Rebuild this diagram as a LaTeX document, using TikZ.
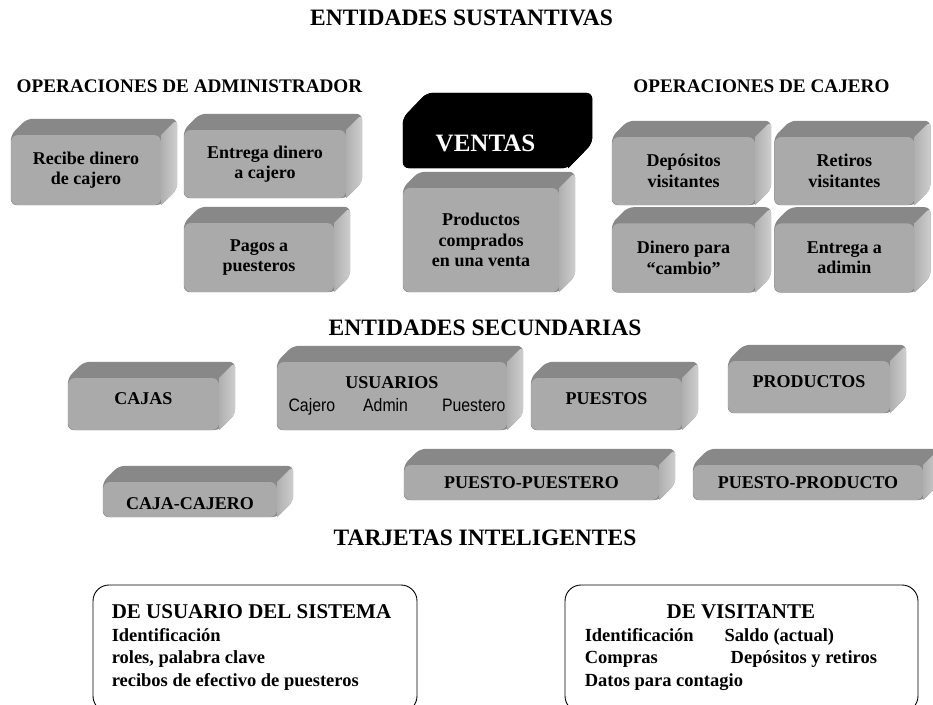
\documentclass[tikz,border=0pt]{standalone}
\usepackage{fontspec}
\setmainfont{Liberation Serif}
\newfontfamily\estrecha[FakeStretch=0.88]{Liberation Sans}
\usetikzlibrary{positioning, backgrounds}

\definecolor{frente}{RGB}{170,170,170}
\definecolor{tapa}{RGB}{136,136,136}
\definecolor{ladoA}{RGB}{176,176,176}
\definecolor{ladoB}{RGB}{206,206,206}

\tikzstyle{bloque} = [rectangle, rounded corners=7pt, fill=frente, align=center, inner sep=0pt, font=\bfseries\fontsize{18}{20.5}\selectfont]
\tikzstyle{titulo} = [font=\bfseries\fontsize{23.5}{27}\selectfont]
\tikzstyle{subtitulo} = [font=\bfseries\fontsize{19.2}{22}\selectfont]
\tikzstyle{tarjeta} = [rectangle, rounded corners=16pt, draw=black, line width=0.9pt, inner sep=0pt]
\tikzstyle{textoTarjeta} = [inner sep=0pt, align=left, font=\bfseries\fontsize{18.5}{22.5}\selectfont]

% silueta, tapa y lado de un bloque: nodo, dx, dy
\newcommand{\relieve}[4][]{%
  \fill[tapa, rounded corners=6pt, #1] (#2.south west) -- (#2.north west) -- ++(#3,-#4) -- ([shift={(#3,-#4)}]#2.north east) -- ([shift={(#3,-#4)}]#2.south east) -- (#2.south east) -- cycle;
  \shade[left color=ladoA, right color=ladoB, #1] (#2.north east) [rounded corners=6pt] -- ([shift={(#3,-#4)}]#2.north east) -- ([shift={(#3,-#4)}]#2.south east) [sharp corners] -- (#2.south east) -- cycle;
}

\begin{document}
\begin{tikzpicture}[x=1pt, y=-1pt]
        \path[use as bounding box, clip] (0,0) rectangle (933,704);

        % Titulos
        \node (titSustantivas) [titulo] at (461.5,17.5) {ENTIDADES SUSTANTIVAS};
        \node (titAdmin) [subtitulo] at (189.5,86) {OPERACIONES DE ADMINISTRADOR};
        \node (titCajero) [subtitulo] at (761.5,86) {OPERACIONES DE CAJERO};
        \node (titSecundarias) [titulo] at (485,328) {ENTIDADES SECUNDARIAS};
        \node (titTarjetas) [titulo] at (485,538) {TARJETAS INTELIGENTES};

        % Operaciones de administrador
        \node (recibe) [bloque, minimum width=150pt, minimum height=70pt] at (86,170) {Recibe dinero\\de cajero};
        \node (entrega) [bloque, minimum width=162pt, minimum height=68pt] at (265,164) {Entrega dinero\\a cajero};
        \node (pagos) [bloque, minimum width=150pt, minimum height=69pt] at (259,257.5) {Pagos a\\puesteros};

        % Ventas
        \node (ventas) [bloque, fill=black, text=white, font=\bfseries\fontsize{25}{28}\selectfont, minimum width=165pt, minimum height=50pt] at (485.5,143) {VENTAS};
        \node (compras) [bloque, minimum width=156pt, minimum height=104pt] at (481,240) {Productos\\comprados\\en una venta};

        % Operaciones de cajero
        \node (depositos) [bloque, minimum width=143pt, minimum height=68pt] at (683.5,171) {Depósitos\\visitantes};
        \node (retiros) [bloque, minimum width=140pt, minimum height=68pt, right=19pt of depositos] {Retiros\\visitantes};
        \node (cambio) [bloque, minimum width=143pt, minimum height=69pt, below=18pt of depositos] {Dinero para\\“cambio”};
        \node (entregaAdmin) [bloque, minimum width=140pt, minimum height=69pt, below=18pt of retiros] {Entrega a\\adimin};

        % Entidades secundarias
        \node (cajas) [bloque, minimum width=151pt, minimum height=52pt, text depth=11pt] at (143.5,404) {CAJAS};
        \node (usuarios) [bloque, minimum width=230pt, minimum height=68pt] at (392,396) {USUARIOS\\[3pt]{\estrecha\mdseries\fontsize{18}{20}\selectfont\hspace{10pt}Cajero\hspace{28pt}Admin\hspace{34pt}Puestero}};
        \node (puestos) [bloque, minimum width=151pt, minimum height=52pt, text depth=11pt] at (606.5,404) {PUESTOS};
        \node (productos) [bloque, minimum width=162pt, minimum height=52pt, text depth=11pt] at (809,387) {PRODUCTOS};
        \node (cajaCajero) [bloque, minimum width=174pt, minimum height=35pt, text height=20pt] at (190,499.5) {CAJA-CAJERO};
        \node (puestoPuestero) [bloque, minimum width=255pt, minimum height=35pt] at (531.5,482.5) {PUESTO-PUESTERO};
        \node (puestoProducto) [bloque, minimum width=230pt, minimum height=35pt] at (808,482.5) {PUESTO-PRODUCTO};

        % Relieve de los bloques
        \begin{scope}[on background layer]
            \foreach \n in {recibe, entrega, pagos, compras, depositos, retiros, cambio, entregaAdmin, cajas, usuarios, puestos, productos, cajaCajero, puestoPuestero, puestoProducto}
                {\relieve{\n}{16}{16}}
            \relieve[fill=black, left color=black, right color=black]{ventas}{24}{25}
        \end{scope}

        % Tarjetas inteligentes
        \node (tarjUsuario) [tarjeta, minimum width=324pt, minimum height=127pt] at (255,648.5) {};
        \node (txtUsuario) [textoTarjeta, anchor=north west] at ([shift={(19,20)}]tarjUsuario.north west) {{\fontsize{21}{22}\selectfont DE USUARIO DEL SISTEMA}\\Identificación\\roles, palabra clave\\recibos de efectivo de puesteros};

        \node (tarjVisitante) [tarjeta, minimum width=353pt, minimum height=127pt] at (741.5,648.5) {};
        \node (txtVisitante) [textoTarjeta, anchor=north west] at ([shift={(20,18)}]tarjVisitante.north west) {\begin{tabular}{@{}l@{\hspace{31pt}}l@{}}
            \multicolumn{2}{c}{\hspace{20pt}\fontsize{21}{22}\selectfont DE VISITANTE}\\
            Identificación & Saldo (actual)\\
            Compras & \hspace{6pt}Depósitos y retiros\\
            \multicolumn{2}{@{}l}{Datos para contagio}
        \end{tabular}};

    \end{tikzpicture}
\end{document}
